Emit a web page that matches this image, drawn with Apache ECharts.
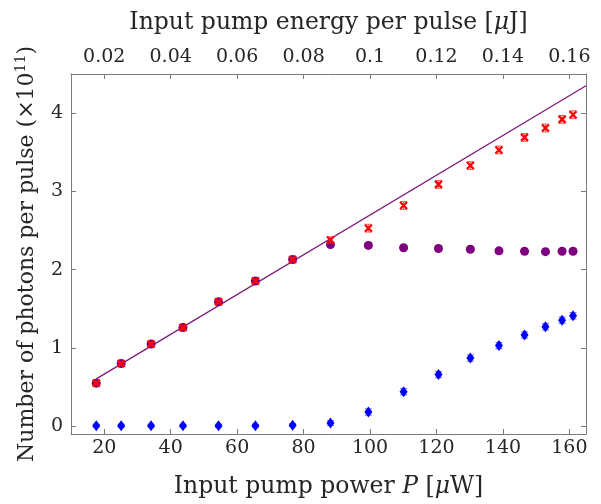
<!DOCTYPE html>
<html>
<head>
<meta charset="utf-8">
<script src="https://cdn.jsdelivr.net/npm/echarts@6/dist/echarts.min.js"></script>
<style>
  html, body { margin: 0; padding: 0; background: #fff; }
  #chart { width: 601px; height: 504px; }
</style>
</head>
<body>
<div id="chart"></div>
<script>
  // input pump power (uW)
  var power = [17.6, 25.1, 34.1, 43.7, 54.4, 65.5, 76.7, 88.1, 99.5, 110.1, 120.6, 130.2, 138.8, 146.5, 152.8, 157.8, 161.1];
  // photons per pulse (x1e11), red = total, purple = idler, blue = signal
  var total = [0.55, 0.80, 1.05, 1.26, 1.59, 1.855, 2.13, 2.38, 2.53, 2.82, 3.09, 3.33, 3.53, 3.69, 3.81, 3.92, 3.98];
  var totalErr = [0.02, 0.02, 0.02, 0.02, 0.02, 0.02, 0.025, 0.04, 0.05, 0.05, 0.05, 0.05, 0.05, 0.05, 0.05, 0.05, 0.05];
  var purple = [0.55, 0.80, 1.05, 1.26, 1.59, 1.855, 2.13, 2.32, 2.31, 2.28, 2.27, 2.26, 2.24, 2.235, 2.23, 2.235, 2.235];
  var purpleErr = [0.02, 0.02, 0.02, 0.02, 0.02, 0.02, 0.02, 0.03, 0.03, 0.03, 0.03, 0.03, 0.03, 0.03, 0.03, 0.03, 0.03];
  var blue = [0.005, 0.005, 0.005, 0.005, 0.005, 0.005, 0.012, 0.04, 0.18, 0.44, 0.66, 0.87, 1.03, 1.165, 1.27, 1.355, 1.41];
  var blueErr = [0.02, 0.02, 0.02, 0.02, 0.02, 0.02, 0.02, 0.03, 0.04, 0.04, 0.04, 0.04, 0.04, 0.04, 0.04, 0.04, 0.04];
  // linear fit, end points
  var fitX = [17.6, 165];
  var fitY = [0.605, 4.35];
  // tick labels
  var powerTicks = [20, 40, 60, 80, 100, 120, 140, 160];
  var energyTicks = ['0.02', '0.04', '0.06', '0.08', '0.1', '0.12', '0.14', '0.16'];
  var yTicks = [0, 1, 2, 3, 4];

  var FONT = 'DejaVu Serif';
  var AXIS = '#7a7a7a';
  var TXT = '#262626';

  function pts(ys) {
    return power.map(function (x, i) { return [x, ys[i]]; });
  }
  function errData(ys, es) {
    return power.map(function (x, i) { return [x, ys[i] - es[i], ys[i] + es[i]]; });
  }
  function errSeries(ys, es, color, z) {
    return {
      type: 'custom',
      z: z,
      data: errData(ys, es),
      renderItem: function (params, api) {
        var lo = api.coord([api.value(0), api.value(1)]);
        var hi = api.coord([api.value(0), api.value(2)]);
        var w = 3.5;
        var st = { stroke: color, lineWidth: 1 };
        return {
          type: 'group',
          children: [
            { type: 'line', shape: { x1: lo[0], y1: lo[1], x2: hi[0], y2: hi[1] }, style: st },
            { type: 'line', shape: { x1: lo[0] - w, y1: lo[1], x2: lo[0] + w, y2: lo[1] }, style: st },
            { type: 'line', shape: { x1: hi[0] - w, y1: hi[1], x2: hi[0] + w, y2: hi[1] }, style: st }
          ]
        };
      }
    };
  }

  var titleRich = {
    t: { fontFamily: FONT, fontSize: 23.5, color: TXT },
    i: { fontFamily: FONT, fontSize: 23.5, color: TXT, fontStyle: 'italic' }
  };
  var line = { show: true, onZero: false, lineStyle: { color: AXIS, width: 1 } };
  var tick = { show: true, inside: true, length: 5, lineStyle: { color: AXIS } };

  var chart = echarts.init(document.getElementById('chart'));
  chart.setOption({
    animation: false,
    grid: { left: 71, right: 15, top: 74, bottom: 70, containLabel: false },
    xAxis: [{
      type: 'value', position: 'bottom', min: 10, max: 165, splitNumber: 8,
      name: '{t|Input pump power }{i|P}{t| [}{i|μ}{t|W]}',
      nameLocation: 'middle', nameGap: 41,
      nameTextStyle: { rich: titleRich },
      axisLine: line, axisTick: tick,
      splitLine: { show: false },
      axisLabel: {
        fontFamily: FONT, fontSize: 19, color: TXT, margin: 5,
        showMinLabel: false, showMaxLabel: false,
        formatter: function (v) { return powerTicks.indexOf(Math.round(v)) >= 0 ? String(Math.round(v)) : ''; }
      }
    }, {
      type: 'value', position: 'top', min: 0.010, max: 0.165, splitNumber: 8,
      name: '{t|Input pump energy per pulse [}{i|μ}{t|J]}',
      nameLocation: 'middle', nameGap: 39,
      nameTextStyle: { rich: titleRich },
      axisLine: line, axisTick: tick,
      splitLine: { show: false },
      axisLabel: {
        fontFamily: FONT, fontSize: 19, color: TXT, margin: 7,
        showMinLabel: false, showMaxLabel: false,
        formatter: function (v) {
          var s = String(+v.toFixed(2));
          return energyTicks.indexOf(s) >= 0 ? s : '';
        }
      }
    }],
    yAxis: [{
      type: 'value', position: 'left', min: -0.1, max: 4.5, splitNumber: 5,
      name: '{t|Number of photons per pulse (×10}{s|11}{t|)}',
      nameLocation: 'middle', nameGap: 31,
      nameTextStyle: { rich: {
        t: { fontFamily: FONT, fontSize: 22, color: TXT, lineHeight: 26 },
        s: { fontFamily: FONT, fontSize: 14, color: TXT, verticalAlign: 'top', lineHeight: 26 }
      } },
      axisLine: line, axisTick: tick,
      splitLine: { show: false },
      axisLabel: {
        fontFamily: FONT, fontSize: 19, color: TXT, margin: 8,
        showMinLabel: false, showMaxLabel: false,
        formatter: function (v) { return yTicks.indexOf(Math.round(v * 10) / 10) >= 0 ? String(Math.round(v)) : ''; }
      }
    }, {
      type: 'value', position: 'right', min: -0.1, max: 4.5, splitNumber: 5,
      axisLine: line, axisTick: tick,
      splitLine: { show: false },
      axisLabel: { show: false }
    }],
    series: [
      {
        type: 'line', data: fitX.map(function (x, i) { return [x, fitY[i]]; }),
        symbol: 'none', z: 2,
        lineStyle: { color: '#7d1a7d', width: 1.3 }
      },
      errSeries(purple, purpleErr, 'rgba(126,0,126,0.75)', 3),
      {
        type: 'scatter', data: pts(purple), z: 4,
        symbol: 'circle', symbolSize: 9,
        itemStyle: { color: '#7e007e', opacity: 1 }
      },
      errSeries(blue, blueErr, 'rgba(0,0,255,0.6)', 3),
      {
        type: 'scatter', data: pts(blue), z: 4,
        symbol: 'diamond', symbolSize: [8, 11],
        itemStyle: { color: '#0000ff', opacity: 1 }
      },
      errSeries(total, totalErr, 'rgba(255,40,40,0.75)', 5),
      {
        type: 'scatter', data: pts(total), z: 6,
        symbol: 'path://M0,0L10,10M10,0L0,10', symbolSize: 7,
        itemStyle: { color: 'none', borderColor: '#ff0000', borderWidth: 2.2, opacity: 1 }
      }
    ]
  });
</script>
</body>
</html>
